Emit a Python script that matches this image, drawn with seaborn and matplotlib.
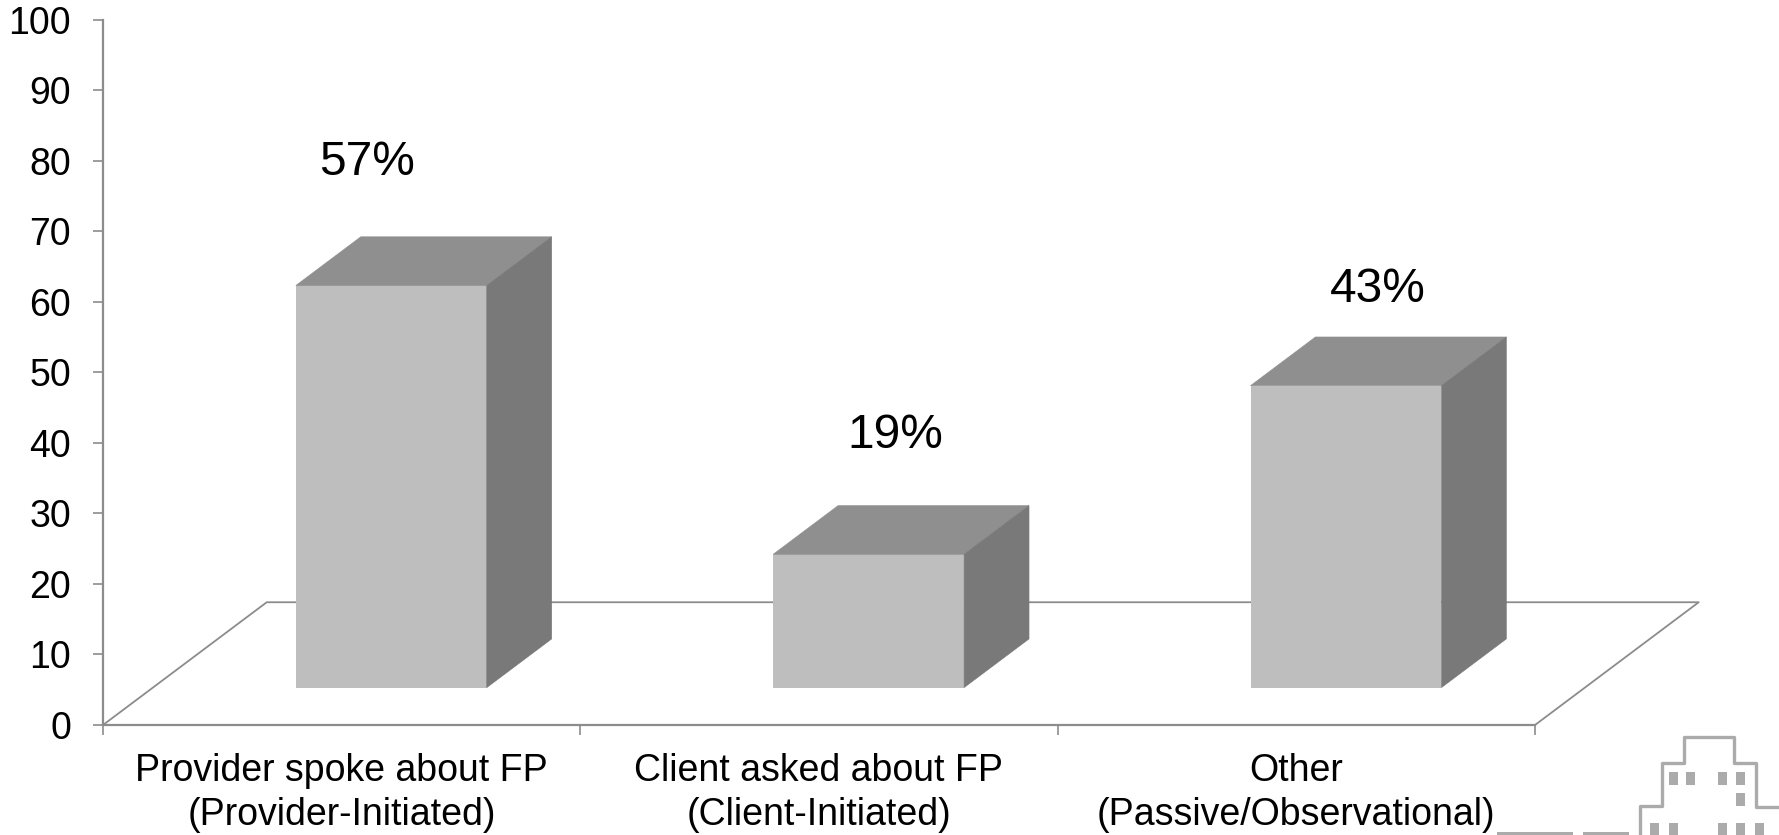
import numpy as np
import pandas as pd
import matplotlib
matplotlib.use("Agg")
import matplotlib.pyplot as plt
from matplotlib.patches import Polygon, Rectangle
from matplotlib.lines import Line2D
import seaborn as sns

categories = ["Provider spoke about FP\n(Provider-Initiated)",
              "Client asked about FP\n(Client-Initiated)",
              "Other\n(Passive/Observational)"]
values = [57, 18.9, 42.8]
value_labels = ["57%", "19%", "43%"]
y_ticks = list(range(0, 101, 10))

# fake 3d settings, in data units
BAR_LIFT = 5.3
BAR_SHIFT = 0.104
DEPTH_X = 0.136
DEPTH_Y = 6.9
FLOOR_X = 0.343
FLOOR_Y = 17.4
label_dx = [-0.05, 0.055, 0.067]
label_dy = [22.8, 22.2, 18.9]

FRONT = "#bebebe"
TOP = "#8f8f8f"
SIDE = "#797979"
LINE = "#8c8c8c"
LOGO = "#ababab"

sns.set_style("white")
plt.rcParams["font.family"] = ["Liberation Sans", "DejaVu Sans"]

W, H = 1779, 835
fig = plt.figure(figsize=(W / 100, H / 100), dpi=100)
ax = fig.add_axes([103 / W, (H - 725) / H, (1535 - 103) / W, 705.5 / H])

df = pd.DataFrame({"pos": np.arange(3) + BAR_SHIFT, "value": values})
sns.barplot(data=df, x="pos", y="value", native_scale=True, width=0.4,
            color=FRONT, saturation=1, bottom=BAR_LIFT, linewidth=0, ax=ax, zorder=3)

ax.set_xlim(-0.5, 2.5)
ax.set_ylim(0, 100)

# floor behind the bars
x0, x1 = ax.get_xlim()
floor_x = [x0, x0 + FLOOR_X, x1 + FLOOR_X, x1]
floor_y = [0, FLOOR_Y, FLOOR_Y, 0]
ax.plot(floor_x, floor_y, color=LINE, lw=1.3, clip_on=False, zorder=1)

# top and side faces come from the bars themselves
for i, bar in enumerate(ax.patches[:3]):
    bx, by, bw, bh = bar.get_x(), bar.get_y(), bar.get_width(), bar.get_height()
    top = by + bh
    ax.add_patch(Polygon([(bx, top), (bx + DEPTH_X, top + DEPTH_Y),
                          (bx + bw + DEPTH_X, top + DEPTH_Y), (bx + bw, top)],
                         fc=TOP, ec=TOP, lw=0.4, zorder=3))
    ax.add_patch(Polygon([(bx + bw, by), (bx + bw + DEPTH_X, by + DEPTH_Y),
                          (bx + bw + DEPTH_X, top + DEPTH_Y), (bx + bw, top)],
                         fc=SIDE, ec=SIDE, lw=0.4, zorder=3))
    ax.text(bx + bw / 2 + label_dx[i], values[i] + label_dy[i], value_labels[i],
            ha="center", va="center", fontsize=34.5, color="black", zorder=4)

ax.set_xlabel("")
ax.set_ylabel("")
sns.despine(ax=ax)
for side in ["left", "bottom"]:
    ax.spines[side].set_color(LINE)
    ax.spines[side].set_linewidth(1.6)

ax.set_yticks(y_ticks)
ax.set_xticks([-0.5, 0.5, 1.5, 2.5])
ax.set_xticklabels([])
ax.set_xticks([0, 1, 2], categories, minor=True)
ax.tick_params(axis="y", which="major", left=True, length=7, width=1.2, color=LINE,
               labelsize=27, labelcolor="black", pad=16)
ax.tick_params(axis="x", which="major", bottom=True, length=7, width=1.2, color=LINE)
ax.tick_params(axis="x", which="minor", bottom=False, length=0, labelsize=27,
               labelcolor="black", pad=20.5)
for lab in ax.get_xticklabels(minor=True):
    lab.set_linespacing(1.28)

# logo in the bottom right corner, pixel coordinates
outline_x = [1640, 1640, 1662, 1662, 1684, 1684, 1734, 1734, 1756, 1756, 1779]
outline_y = [835, 806, 806, 763, 763, 737, 737, 763, 763, 807, 807]
fig.add_artist(Line2D(np.array(outline_x) / W, 1 - np.array(outline_y) / H,
                      transform=fig.transFigure, color=LOGO, lw=2.4))
windows = [(1669, 772), (1686, 772), (1718, 772), (1736, 772), (1736, 793),
           (1650, 823), (1669, 823), (1718, 823), (1736, 823), (1755, 823)]
for wx, wy in windows:
    fig.add_artist(Rectangle((wx / W, 1 - (wy + 13) / H), 9 / W, 13 / H,
                             transform=fig.transFigure, fc=LOGO, ec="none"))
for sx, sw in [(1497, 76), (1583, 46)]:
    fig.add_artist(Rectangle((sx / W, 0), sw / W, 3 / H,
                             transform=fig.transFigure, fc=LOGO, ec="none"))

fig.savefig("out.png", dpi=100)
